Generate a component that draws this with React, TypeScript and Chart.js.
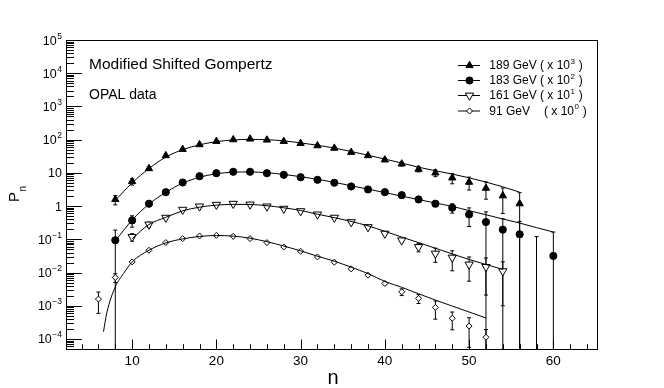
import React, { useEffect, useRef } from 'react';
import { Chart, registerables } from 'chart.js';

Chart.register(...registerables);

// ---------------- data ----------------
// 189 GeV (x 10^3)
const n189 = [8, 10, 12, 14, 16, 18, 20, 22, 24, 26, 28, 30, 32, 34, 36, 38, 40, 42, 44, 46, 48, 50, 52, 54, 56];
const p189 = [1.59, 5.5, 13.5, 33.2, 51.3, 71, 89, 100, 105, 98, 89, 77.6, 66, 55.7, 41.7, 33.2, 24.7, 18.7, 12.9, 10.0, 7.1, 5.25, 3.47, 2.05, 1.18];
const e189 = [0.5, 1.2, 1.5, 2.5, 3, 3.5, 4, 4, 4, 4, 4, 3.5, 3.5, 3, 3, 3, 2.8, 2.5, 2.2, 2.3, 2.4, 2.2, 1.85, 1.45, 1.35];
const fitN189 = [8, 10, 12, 14, 16, 18, 20, 22, 24, 26, 28, 30, 32, 34, 36, 38, 40, 42, 44, 46, 48, 50, 52, 54, 56];
const fit189 = [1.48, 5.0, 13.5, 30, 50, 70, 87, 98, 102, 100, 92, 80, 68, 56, 44, 34, 26, 19.8, 14.8, 11.6, 9.2, 7.1, 5.3, 3.8, 2.63];

// 183 GeV (x 10^2)
const n183 = [8, 10, 12, 14, 16, 18, 20, 22, 24, 26, 28, 30, 32, 34, 36, 38, 40, 42, 44, 46, 48, 50, 52, 54, 56, 58, 60];
const p183 = [0.094, 0.372, 1.18, 2.63, 5.14, 7.94, 9.77, 10.8, 10.8, 9.77, 8.75, 7.41, 6.19, 5.04, 3.9, 3.17, 2.63, 2.14, 1.59, 1.18, 0.895, 0.563, 0.331, 0.196, 0.142, 0, 0.0316];
const e183 = [0.095, 0.14, 0.1, 0.15, 0.2, 0.25, 0.3, 0.3, 0.3, 0.3, 0.3, 0.25, 0.22, 0.2, 0.15, 0.13, 0.12, 0.1, 0.1, 0.15, 0.28, 0.32, 0.34, 0.22, 0.205, 0.121, 0.134];
const fitN183 = [8, 10, 12, 14, 16, 18, 20, 22, 24, 26, 28, 30, 32, 34, 36, 38, 40, 42, 44, 46, 48, 50, 52, 54, 56, 58, 60];
const fit183 = [0.09, 0.38, 1.15, 2.6, 4.9, 7.4, 9.4, 10.5, 10.7, 10.1, 9.0, 7.7, 6.4, 5.2, 4.1, 3.25, 2.55, 2.0, 1.57, 1.24, 0.98, 0.73, 0.55, 0.41, 0.309, 0.225, 0.166];

// 161 GeV (x 10^1)
const n161 = [10, 12, 14, 16, 18, 20, 22, 24, 26, 28, 30, 32, 34, 36, 38, 40, 42, 44, 46, 48, 50, 52, 54];
const p161 = [0.118, 0.28, 0.449, 0.78, 0.98, 1.10, 1.18, 1.12, 0.98, 0.836, 0.708, 0.563, 0.449, 0.331, 0.234, 0.149, 0.0935, 0.0589, 0.0373, 0.0283, 0.0175, 0.0148, 0.011];
const e161 = [0.03, 0.05, 0.04, 0.05, 0.05, 0.05, 0.05, 0.05, 0.05, 0.04, 0.04, 0.035, 0.03, 0.025, 0.02, 0.012, 0.01, 0.017, 0.017, 0.017, 0.012, 0.0127, 0.01];
const fitN161 = [10, 12, 14, 16, 18, 20, 22, 24, 26, 28, 30, 32, 34, 36, 38, 40, 42, 44, 46, 48, 50, 52, 54];
const fit161 = [0.105, 0.28, 0.46, 0.72, 0.93, 1.07, 1.13, 1.12, 1.03, 0.89, 0.74, 0.57, 0.45, 0.345, 0.255, 0.174, 0.117, 0.0796, 0.054, 0.0364, 0.0247, 0.0175, 0.0124];

// 91 GeV (x 10^0)
const n91 = [6, 8, 10, 12, 14, 16, 18, 20, 22, 24, 26, 28, 30, 32, 34, 36, 38, 40, 42, 44, 46, 48, 50, 52];
const p91 = [0.00159, 0.0071, 0.0209, 0.0469, 0.0798, 0.105, 0.126, 0.132, 0.123, 0.105, 0.0798, 0.0589, 0.0437, 0.0295, 0.0205, 0.0129, 0.00834, 0.0047, 0.00263, 0.00167, 0.000895, 0.000419, 0.000246, 0.000113];
const e91 = [0.001, 0.0021, 0.002, 0.002, 0.003, 0.003, 0.003, 0.003, 0.003, 0.003, 0.002, 0.0015, 0.001, 0.0008, 0.0006, 0.0005, 0.0003, 0.0004, 0.0006, 0.0005, 0.0005, 0.00023, 0.00019, 0.00008];
const fitN91 = [6.6, 7, 8, 9, 10, 12, 14, 16, 18, 20, 22, 24, 26, 28, 30, 32, 34, 36, 38, 40, 42, 44, 46, 48, 50, 52];
const fit91 = [0.000166, 0.00062, 0.0037, 0.0095, 0.0209, 0.047, 0.078, 0.103, 0.122, 0.13, 0.125, 0.108, 0.085, 0.063, 0.045, 0.031, 0.022, 0.0145, 0.0093, 0.0054, 0.0036, 0.0023, 0.00148, 0.00098, 0.00065, 0.00043];

// axis
const xMin = 2.15;
const xMax = 65.3;
const yMin = 5e-5;
const yMax = 1e5;
const xTickLabels = [10, 20, 30, 40, 50, 60];
const yTickExps = [5, 4, 3, 2, 1, 0, -1, -2, -3, -4];

const legendNames = ['189 GeV', '183 GeV', '161 GeV', '91 GeV'];
const legendExps = ['3', '2', '1', '0'];
const mainTitle = 'Modified Shifted Gompertz';
const subTitle = 'OPAL data';
const xTitle = 'n';

const FONT = '"Liberation Sans", Arial, Helvetica, sans-serif';

type Series = { n: number[]; p: number[]; e: number[]; style: string; fill: string; radius: number; rot: number };

const series: Series[] = [
  { n: n189, p: p189, e: e189, style: 'triangle', fill: '#000', radius: 4.2, rot: 0 },
  { n: n183, p: p183, e: e183, style: 'circle', fill: '#000', radius: 3.6, rot: 0 },
  { n: n161, p: p161, e: e161, style: 'triangle', fill: '#fff', radius: 4.8, rot: 180 },
  { n: n91, p: p91, e: e91, style: 'rectRot', fill: '#fff', radius: 3.0, rot: 0 },
];
const fits = [
  { n: fitN189, v: fit189 },
  { n: fitN183, v: fit183 },
  { n: fitN161, v: fit161 },
  { n: fitN91, v: fit91 },
];

function drawMarker(ctx: CanvasRenderingContext2D, s: Series, x: number, y: number) {
  ctx.save();
  ctx.beginPath();
  const r = s.radius;
  if (s.style === 'circle') {
    ctx.arc(x, y, r, 0, Math.PI * 2);
  } else if (s.style === 'triangle') {
    const sgn = s.rot === 180 ? -1 : 1;
    ctx.moveTo(x, y - sgn * r);
    ctx.lineTo(x + r * 0.866, y + sgn * r * 0.5);
    ctx.lineTo(x - r * 0.866, y + sgn * r * 0.5);
    ctx.closePath();
  } else {
    ctx.moveTo(x, y - r);
    ctx.lineTo(x + r, y);
    ctx.lineTo(x, y + r);
    ctx.lineTo(x - r, y);
    ctx.closePath();
  }
  ctx.fillStyle = s.fill;
  ctx.fill();
  ctx.lineWidth = 1;
  ctx.strokeStyle = '#000';
  ctx.stroke();
  ctx.restore();
}

const errorBars = {
  id: 'errorBars',
  beforeDatasetsDraw(chart: any) {
    const { ctx, chartArea } = chart;
    const x = chart.scales.x;
    const y = chart.scales.y;
    ctx.save();
    ctx.beginPath();
    ctx.rect(chartArea.left, chartArea.top, chartArea.right - chartArea.left, chartArea.bottom - chartArea.top);
    ctx.clip();
    ctx.strokeStyle = '#000';
    ctx.lineWidth = 1;
    series.forEach((s) => {
      s.n.forEach((n, i) => {
        const v = s.p[i];
        const e = s.e[i];
        const px = x.getPixelForValue(n);
        const top = y.getPixelForValue(v + e);
        const lo = v - e;
        const bottom = lo > 0 ? y.getPixelForValue(lo) : chartArea.bottom;
        ctx.beginPath();
        ctx.moveTo(px, top);
        ctx.lineTo(px, bottom);
        ctx.moveTo(px - 2, top);
        ctx.lineTo(px + 2, top);
        if (lo > 0) {
          ctx.moveTo(px - 2, bottom);
          ctx.lineTo(px + 2, bottom);
        }
        ctx.stroke();
      });
    });
    ctx.restore();
  },
};

const frameAndText = {
  id: 'frameAndText',
  afterDatasetsDraw(chart: any) {
    const { ctx, chartArea } = chart;
    const x = chart.scales.x;
    const y = chart.scales.y;
    const L = chartArea.left, R = chartArea.right, T = chartArea.top, B = chartArea.bottom;
    ctx.save();
    ctx.strokeStyle = '#000';
    ctx.lineWidth = 1;
    ctx.strokeRect(L + 0.5, T + 0.5, R - L - 1, B - T);

    // x ticks
    ctx.beginPath();
    for (let v = 4; v <= 64; v += 2) {
      const px = Math.round(x.getPixelForValue(v)) + 0.5;
      const len = v % 10 === 0 ? 9.5 : 4.8;
      ctx.moveTo(px, B);
      ctx.lineTo(px, B - len);
    }
    // y ticks
    for (let e = -5; e <= 4; e++) {
      for (let m = 1; m <= 9; m++) {
        const v = m * Math.pow(10, e);
        if (v < yMin * 0.999 || v > yMax * 1.001) continue;
        const py = Math.round(y.getPixelForValue(v)) + 0.5;
        const len = m === 1 ? 16 : 8;
        ctx.moveTo(L, py);
        ctx.lineTo(L + len, py);
      }
    }
    ctx.stroke();

    ctx.fillStyle = '#000';
    // x tick labels
    ctx.font = `13.5px ${FONT}`;
    ctx.textAlign = 'center';
    ctx.textBaseline = 'alphabetic';
    xTickLabels.forEach((v) => {
      ctx.fillText(String(v), x.getPixelForValue(v), 365);
    });

    // y tick labels
    const baseFont = `12.5px ${FONT}`;
    const supFont = `8.5px ${FONT}`;
    yTickExps.forEach((e) => {
      const py = y.getPixelForValue(Math.pow(10, e));
      const rightX = 62;
      ctx.textAlign = 'left';
      if (e === 0 || e === 1) {
        const s = e === 0 ? '1' : '10';
        ctx.font = baseFont;
        const w = ctx.measureText(s).width;
        ctx.fillText(s, rightX - w, py + 4.5);
      } else {
        const sup = e < 0 ? '\u2212' + String(-e) : String(e);
        ctx.font = supFont;
        const ws = ctx.measureText(sup).width;
        ctx.font = baseFont;
        const wb = ctx.measureText('10').width;
        const x0 = rightX - ws - wb - 0.5;
        ctx.fillText('10', x0, py + 4.5);
        ctx.font = supFont;
        ctx.fillText(sup, x0 + wb + 0.5, py - 1.5);
      }
    });

    // axis titles
    ctx.font = `20px ${FONT}`;
    ctx.textAlign = 'center';
    ctx.fillText(xTitle, 333, 384);

    ctx.save();
    ctx.translate(19, 202);
    ctx.rotate(-Math.PI / 2);
    ctx.textAlign = 'left';
    ctx.font = `15px ${FONT}`;
    ctx.fillText('P', 0, 0);
    const wP = ctx.measureText('P').width;
    ctx.font = `10px ${FONT}`;
    ctx.fillText('n', wP + 0.5, 6.5);
    ctx.restore();

    // texts
    ctx.textAlign = 'left';
    ctx.font = `15.5px ${FONT}`;
    ctx.fillText(mainTitle, 89, 69.3);
    ctx.font = `14px ${FONT}`;
    ctx.fillText(subTitle, 89, 99.3);

    // legend
    const rowsY = [65, 80, 95, 110.5];
    ctx.font = `12px ${FONT}`;
    const parenX = 489.3 + ctx.measureText('189 GeV ').width;
    series.forEach((s, i) => {
      const cy = rowsY[i];
      ctx.beginPath();
      ctx.moveTo(458, cy + 0.5);
      ctx.lineTo(480, cy + 0.5);
      ctx.lineWidth = 1;
      ctx.strokeStyle = '#000';
      ctx.stroke();
      drawMarker(ctx, s, 469.5, cy + 0.5);
      ctx.fillStyle = '#000';
      ctx.font = `12px ${FONT}`;
      ctx.fillText(legendNames[i], 489.3, cy + 4.3);
      const px = i === 3 ? parenX + 4 : parenX;
      const pre = '( x 10';
      ctx.fillText(pre, px, cy + 4.3);
      const wpre = ctx.measureText(pre).width;
      ctx.font = `8px ${FONT}`;
      ctx.fillText(legendExps[i], px + wpre + 0.5, cy - 1.5);
      const wexp = ctx.measureText(legendExps[i]).width;
      ctx.font = `12px ${FONT}`;
      ctx.fillText(' )', px + wpre + wexp + 1, cy + 4.3);
    });
    ctx.restore();
  },
};

export default function App() {
  const ref = useRef<HTMLCanvasElement>(null);
  useEffect(() => {
    document.body.style.margin = '0';
    const canvas = ref.current;
    if (!canvas) return;
    const datasets: any[] = [];
    fits.forEach((f) => {
      datasets.push({
        type: 'line',
        data: f.n.map((n, i) => ({ x: n, y: f.v[i] })),
        borderColor: '#000',
        borderWidth: 1,
        pointRadius: 0,
        fill: false,
        cubicInterpolationMode: 'monotone',
      });
    });
    series.forEach((s) => {
      datasets.push({
        type: 'scatter',
        data: s.n.map((n, i) => ({ x: n, y: s.p[i] > 0 ? s.p[i] : null })),
        showLine: false,
        pointStyle: s.style,
        pointRotation: s.rot,
        pointRadius: s.radius,
        pointBackgroundColor: s.fill,
        pointBorderColor: '#000',
        pointBorderWidth: 1,
      });
    });
    const chart = new Chart(canvas, {
      type: 'scatter',
      data: { datasets },
      options: {
        animation: false,
        responsive: false,
        events: [],
        layout: { padding: { left: 66, right: 66, top: 40, bottom: 39 } },
        plugins: { legend: { display: false }, tooltip: { enabled: false } },
        scales: {
          x: { type: 'linear', min: xMin, max: xMax, display: false },
          y: { type: 'logarithmic', min: yMin, max: yMax, display: false },
        },
      },
      plugins: [errorBars, frameAndText],
    } as any);
    return () => chart.destroy();
  }, []);
  return (
    <div style={{ width: 664, height: 388, background: '#fff' }}>
      <canvas ref={ref} width={664} height={388} style={{ display: 'block' }} />
    </div>
  );
}
